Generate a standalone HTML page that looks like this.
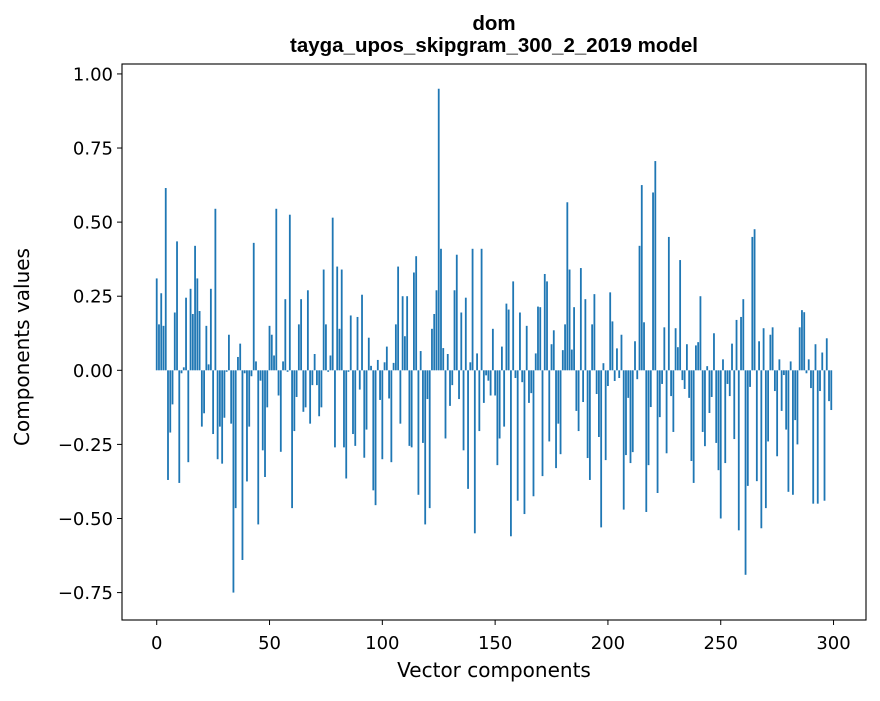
<!DOCTYPE html>
<html><head><meta charset="utf-8"><style>
body{margin:0;background:#fff;}
svg text{font-family:"DejaVu Sans","Liberation Sans",sans-serif;fill:#000;}
svg text.title{font-family:"Liberation Sans",sans-serif;}
</style></head><body>
<svg id="chart" width="880" height="696" viewBox="0 0 880 696" xmlns="http://www.w3.org/2000/svg">
<rect x="0" y="0" width="880" height="696" fill="#fff"/>
<g id="bars"></g>
<g id="axes"></g>
<text class="title" x="494" y="30" text-anchor="middle" font-size="20.5" font-weight="bold">dom</text>
<text class="title" x="494" y="52" text-anchor="middle" font-size="20.5" font-weight="bold">tayga_upos_skipgram_300_2_2019 model</text>
<text x="494" y="677" text-anchor="middle" font-size="20">Vector components</text>
<text transform="translate(29,347) rotate(-90)" text-anchor="middle" font-size="20">Components values</text>
</svg>
<script>
const values = [
0.31,0.155,0.26,0.15,0.615,-0.37,-0.21,-0.115,0.195,0.435,
-0.38,-0.01,0.01,0.245,-0.31,0.275,0.19,0.42,0.31,0.2,
-0.19,-0.145,0.15,0.02,0.275,-0.215,0.545,-0.3,-0.19,-0.315,
-0.16,-0.005,0.12,-0.18,-0.75,-0.465,0.045,0.09,-0.64,-0.01,
-0.375,-0.19,-0.02,0.43,0.03,-0.52,-0.035,-0.27,-0.36,-0.125,
0.15,0.12,0.05,0.545,-0.085,-0.275,0.03,0.24,-0.005,0.525,
-0.465,-0.205,-0.09,0.155,0.24,-0.14,-0.125,0.27,-0.18,-0.05,
0.055,-0.05,-0.155,-0.125,0.34,0.155,-0.005,0.05,0.515,-0.26,
0.35,0.14,0.34,-0.26,-0.365,-0.005,0.185,-0.215,-0.255,0.18,
-0.065,0.255,-0.295,-0.2,0.11,0.015,-0.405,-0.455,0.035,-0.1,
-0.3,0.027,0.08,-0.095,-0.31,0.025,0.155,0.35,-0.18,0.25,
0.115,0.25,-0.255,-0.26,0.33,0.385,-0.42,0.065,-0.245,-0.52,
-0.097,-0.465,0.14,0.19,0.27,0.95,0.41,0.075,-0.23,0.055,
-0.12,-0.05,0.27,0.39,-0.097,0.195,-0.27,0.245,-0.4,0.027,
0.41,-0.55,0.057,-0.205,0.41,-0.11,-0.017,-0.035,-0.085,0.14,
-0.085,-0.32,-0.23,0.08,-0.19,0.225,0.205,-0.56,0.3,-0.026,
-0.44,0.195,-0.04,-0.485,0.15,-0.11,-0.077,-0.425,0.057,0.215,
0.213,-0.357,0.325,0.3,-0.24,0.088,0.135,-0.33,-0.18,-0.283,
0.068,0.155,0.567,0.34,0.07,0.213,-0.137,-0.205,0.345,-0.107,
0.24,-0.296,-0.37,0.155,0.257,-0.08,-0.225,-0.53,0.024,-0.303,
-0.053,0.263,0.165,-0.036,0.074,-0.026,0.12,-0.47,-0.286,-0.093,
-0.313,-0.276,0.098,-0.03,0.42,0.625,0.162,-0.478,-0.32,-0.124,
0.6,0.706,-0.414,-0.158,-0.046,0.145,-0.28,0.45,-0.087,-0.208,
0.142,0.078,0.372,-0.033,-0.063,0.088,-0.093,-0.306,-0.38,0.084,
0.095,0.25,-0.208,-0.256,0.014,-0.144,-0.09,0.125,-0.245,-0.337,
-0.5,0.037,-0.313,-0.046,-0.087,0.09,-0.232,0.17,-0.54,0.18,
0.24,-0.69,-0.39,-0.056,0.45,0.476,-0.374,0.098,-0.533,0.142,
-0.465,-0.24,0.12,0.145,-0.07,-0.29,0.037,-0.137,-0.016,-0.2,
-0.41,0.03,-0.42,-0.168,-0.25,0.145,0.203,0.196,-0.01,0.037,
-0.06,-0.45,0.088,-0.45,-0.07,0.06,-0.44,0.108,-0.104,-0.134
];
const xTicks = [0,50,100,150,200,250,300];
const yTicks = [-0.75,-0.5,-0.25,0,0.25,0.5,0.75,1.0];
const yTickLabels = ["\u22120.75","\u22120.50","\u22120.25","0.00","0.25","0.50","0.75","1.00"];

const L=122,R=866,T=64,B=620;
const x0=-15.39,x1=314.39,y0=-0.8425,y1=1.0335;
const sx=v=>L+(v-x0)/(x1-x0)*(R-L);
const sy=v=>B-(v-y0)/(y1-y0)*(B-T);
const NS="http://www.w3.org/2000/svg";
const bars=document.getElementById('bars');
values.forEach((v,i)=>{
  const r=document.createElementNS(NS,'rect');
  const xa=sx(i-0.4),xb=sx(i+0.4);
  const ya=sy(Math.max(v,0)),yb=sy(Math.min(v,0));
  r.setAttribute('x',xa);r.setAttribute('width',xb-xa);
  r.setAttribute('y',ya);r.setAttribute('height',Math.max(yb-ya,0.01));
  r.setAttribute('fill','#1f77b4');
  
  
  bars.appendChild(r);
});
const axes=document.getElementById('axes');
const fr=document.createElementNS(NS,'rect');
fr.setAttribute('x',L);fr.setAttribute('y',T);fr.setAttribute('width',R-L);fr.setAttribute('height',B-T);
fr.setAttribute('fill','none');fr.setAttribute('stroke','#000');fr.setAttribute('stroke-width','1.1');


axes.appendChild(fr);
xTicks.forEach(t=>{
  const X=sx(t);
  const l=document.createElementNS(NS,'line');
  l.setAttribute('x1',X);l.setAttribute('x2',X);l.setAttribute('y1',B);l.setAttribute('y2',B+5);
  l.setAttribute('stroke','#000');
  
  
  axes.appendChild(l);
  const tx=document.createElementNS(NS,'text');
  tx.setAttribute('x',X);tx.setAttribute('y',B+29);tx.setAttribute('text-anchor','middle');tx.setAttribute('font-size','18');
  tx.textContent=t;
  
  
  axes.appendChild(tx);
});
yTicks.forEach((t,k)=>{
  const Y=sy(t);
  const l=document.createElementNS(NS,'line');
  l.setAttribute('x1',L-5);l.setAttribute('x2',L);l.setAttribute('y1',Y);l.setAttribute('y2',Y);
  l.setAttribute('stroke','#000');
  
  
  axes.appendChild(l);
  const tx=document.createElementNS(NS,'text');
  tx.setAttribute('x',L-9);tx.setAttribute('y',Y+6.5);tx.setAttribute('text-anchor','end');tx.setAttribute('font-size','18');
  tx.textContent=yTickLabels[k];
  
  
  axes.appendChild(tx);
});
</script>
</body></html>
